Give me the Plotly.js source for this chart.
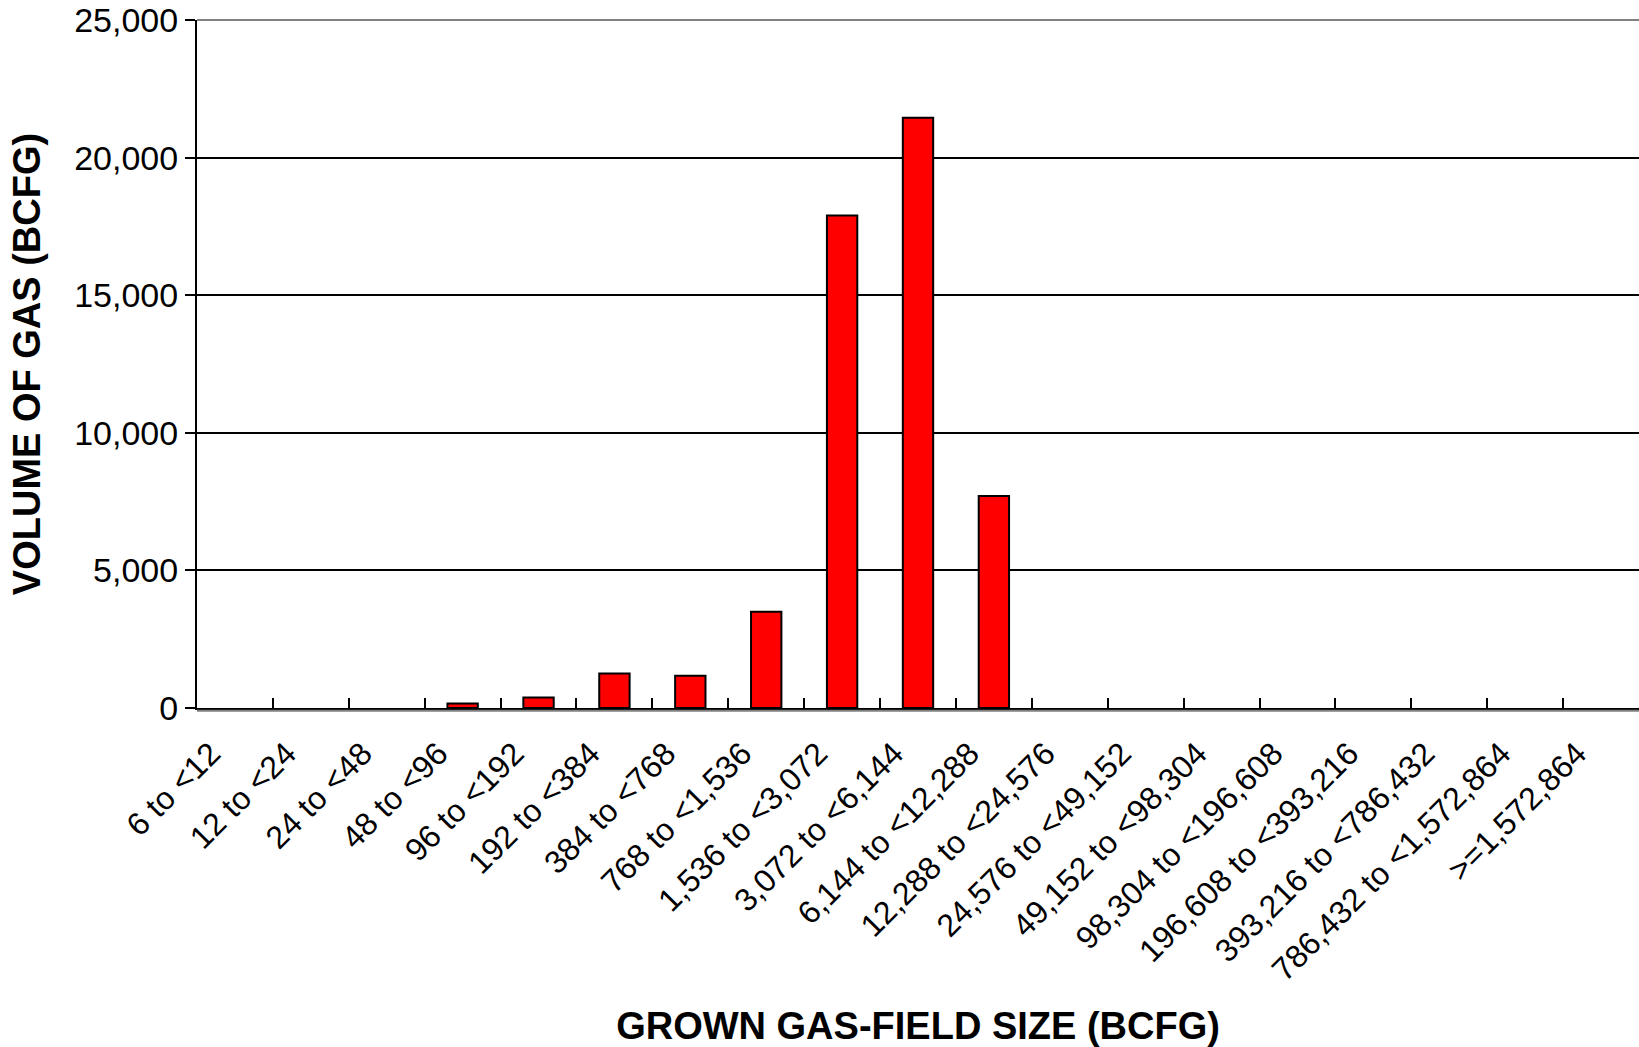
<!DOCTYPE html>
<html>
<head>
<meta charset="utf-8">
<script src="https://cdn.plot.ly/plotly-3.0.1.min.js"></script>
<style>html,body{margin:0;padding:0;background:#fff;}#chart{width:1639px;height:1047px;}</style>
</head>
<body>
<div id="chart"></div>
<script>
const categories = ["6 to <12","12 to <24","24 to <48","48 to <96","96 to <192","192 to <384","384 to <768","768 to <1,536","1,536 to <3,072","3,072 to <6,144","6,144 to <12,288","12,288 to <24,576","24,576 to <49,152","49,152 to <98,304","98,304 to <196,608","196,608 to <393,216","393,216 to <786,432","786,432 to <1,572,864",">=1,572,864"];
const volumes = [0,0,0,160,380,1250,1170,3500,17900,21450,7700,0,0,0,0,0,0,0,0];
const yTicks = [0,5000,10000,15000,20000,25000];
const yTickText = ["0","5,000","10,000","15,000","20,000","25,000"];

const FONT = "Liberation Sans, Arial, sans-serif";

const trace = {
  type: "bar",
  x: categories,
  y: volumes,
  marker: {
    color: "#ff0000",
    line: {color: "#000000", width: volumes.map(v => v > 0 ? 2 : 0)}
  },
  hoverinfo: "x+y"
};

const layout = {
  width: 1639, height: 1047,
  margin: {l: 197, r: 0, t: 20, b: 339},
  paper_bgcolor: "#ffffff", plot_bgcolor: "#ffffff",
  bargap: 0.6,
  showlegend: false,
  font: {family: FONT, color: "#000000"},
  xaxis: {
    type: "category",
    tickangle: -45,
    ticks: "inside", tickson: "boundaries", ticklen: 10, tickwidth: 2, tickcolor: "#000",
    ticklabelshift: -24, ticklabelstandoff: 12,
    showline: true, linecolor: "#000", linewidth: 2,
    showgrid: false,
    tickfont: {size: 32, family: FONT},
    title: {text: "GROWN GAS-FIELD SIZE (BCFG)", font: {size: 38, family: FONT, weight: "bold"}, standoff: 42}
  },
  yaxis: {
    range: [0, 25000],
    tickvals: yTicks, ticktext: yTickText,
    ticks: "outside", ticklen: 10, tickwidth: 2, tickcolor: "#000",
    showline: true, linecolor: "#000", linewidth: 2,
    showgrid: true, gridcolor: "#000", gridwidth: 2,
    zeroline: false,
    tickfont: {size: 34, family: FONT},
    title: {text: "VOLUME OF GAS (BCFG)", font: {size: 38, family: FONT, weight: "bold"}, standoff: 22}
  },
  shapes: [
    {type: "line", xref: "paper", yref: "paper", x0: 0, x1: 1, y0: 1, y1: 1, line: {color: "#808080", width: 2}, layer: "above"},
    {type: "line", xref: "paper", yref: "paper", x0: 0, x1: 1, y0: -0.004, y1: -0.004, line: {color: "#808080", width: 2}, layer: "above"}
  ]
};

Plotly.newPlot("chart", [trace], layout, {displayModeBar: false, staticPlot: true});
</script>
</body>
</html>
